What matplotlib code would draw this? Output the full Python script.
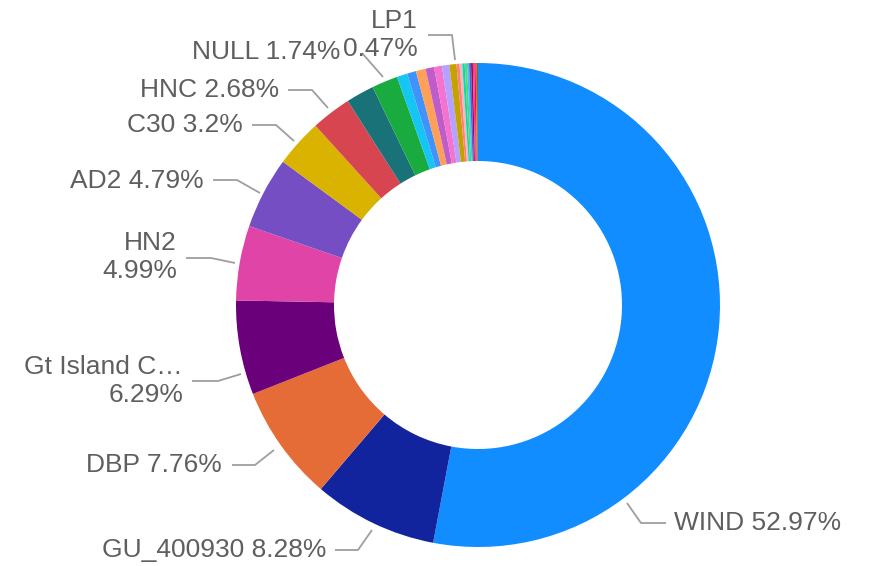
import matplotlib
matplotlib.use("Agg")
import matplotlib.pyplot as plt

plt.rcParams['font.family'] = ['Liberation Sans', 'DejaVu Sans']

# slice data, clockwise from 12 o'clock
names = ["WIND", "GU_400930", "DBP", "Gt Island C\u2026", "HN2", "AD2", "C30", "HNC",
         "other1", "NULL", "other2", "other3", "other4", "other5", "other6", "other7",
         "LP1", "t1", "t2", "t3", "t4", "t5", "t6", "t7", "t8", "t9", "t10", "t11"]
shares = [52.97, 8.28, 7.76, 6.29, 4.99, 4.79, 3.2, 2.68,
          1.87, 1.74, 0.7, 0.6, 0.65, 0.57, 0.52, 0.5,
          0.47, 0.2, 0.18, 0.16, 0.15, 0.14, 0.13, 0.12, 0.1, 0.09, 0.08, 0.07]
colors = ["#118DFF", "#12239E", "#E66C37", "#6B007B", "#E044A7", "#744EC2", "#D9B300", "#D64550",
          "#197278", "#1AAB40", "#15C6F4", "#4092FF", "#FFA058", "#BE5DC9", "#F472D0", "#B5A1FF",
          "#C4A200", "#FF8080", "#FFB3B3", "#00DBBC", "#5BD667", "#40C4FF", "#4668C5", "#99008A",
          "#FF4141", "#EC008C", "#FF6300", "#5F6B6D"]

# labels shown on the chart: text, anchor x, anchor y (px), alignment, leader points (px)
labels = [
    ("WIND 52.97%", 674, 523, "left", [(666, 523), (641, 523), (627, 503)]),
    ("GU_400930 8.28%", 326, 550, "right", [(335, 550), (358, 550), (372, 530)]),
    ("DBP 7.76%", 222, 465, "right", [(232, 465), (255, 465), (274, 450)]),
    ("Gt Island C\u2026\n6.29%", 183, 381, "right", [(192, 381), (218, 381), (241, 374)]),
    ("HN2\n4.99%", 177, 257, "right", [(186, 258), (211, 258), (235, 263)]),
    ("AD2 4.79%", 204, 181, "right", [(213, 180), (237, 180), (260, 193)]),
    ("C30 3.2%", 243, 125, "right", [(252, 125), (276, 125), (294, 141)]),
    ("HNC 2.68%", 279, 90, "right", [(288, 90), (312, 90), (328, 108)]),
    ("NULL 1.74%", 340, 52, "right", [(362, 53), (383, 77)]),
    ("LP1\n0.47%", 418, 35, "right", [(428, 35), (452, 35), (455, 60)]),
]

W, H = 872, 566
fig = plt.figure(figsize=(W / 100, H / 100), dpi=100)
ax = fig.add_axes([0, 0, 1, 1])
ax.set_xlim(0, W)
ax.set_ylim(0, H)
ax.set_aspect("equal")
ax.axis("off")

cx, cy, R = 478, 305, 242
ax.pie(shares, colors=colors, startangle=90, counterclock=False,
       center=(cx, H - cy), radius=R,
       wedgeprops=dict(width=R - 144, linewidth=0))
ax.set_xlim(0, W)
ax.set_ylim(0, H)

for text, x, y, ha, pts in labels:
    xs = [p[0] for p in pts]
    ys = [H - p[1] for p in pts]
    ax.plot(xs, ys, color="#9e9e9e", lw=1.3, solid_capstyle="butt")
    ax.text(x, H - y, text, ha=ha, va="center", fontsize=19, color="#5f5f5f",
            linespacing=1.22)

fig.savefig("out.png", dpi=100)
